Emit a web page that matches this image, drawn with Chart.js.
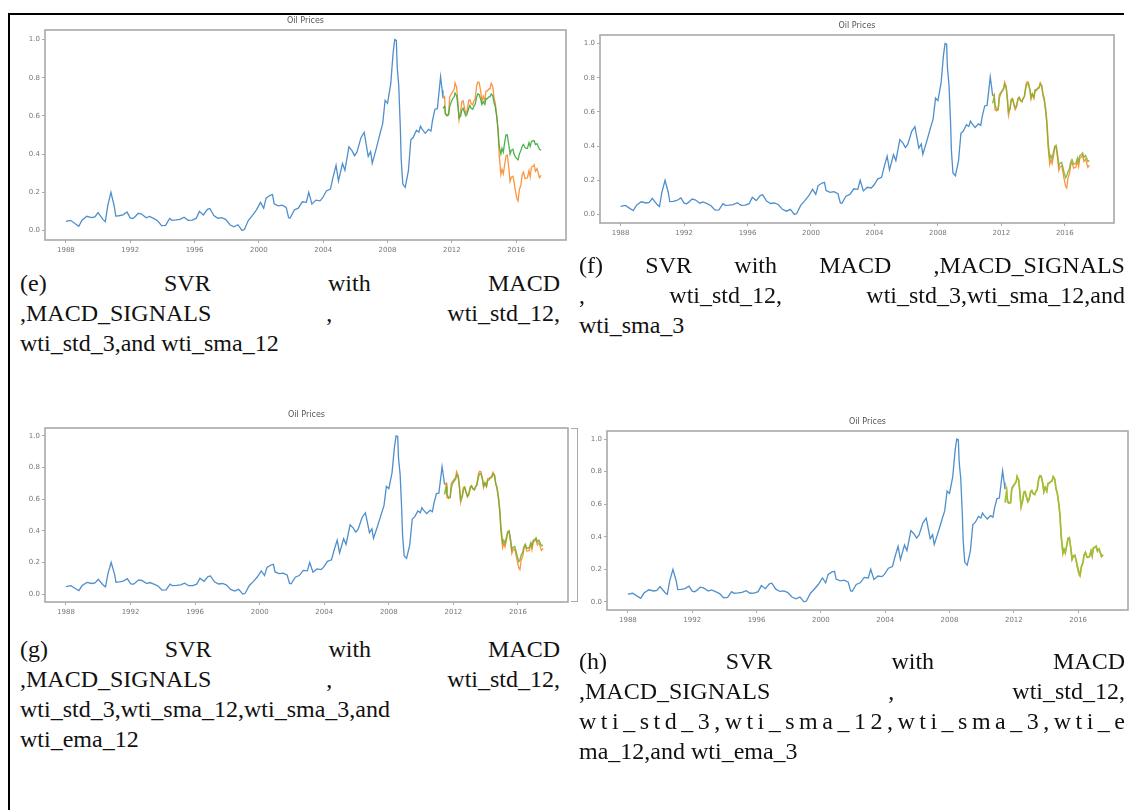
<!DOCTYPE html>
<html><head><meta charset="utf-8">
<script src="https://cdn.jsdelivr.net/npm/chart.js@4.4.1/dist/chart.umd.min.js"></script>
<style>
html,body{margin:0;padding:0;background:#fff;width:1132px;height:810px;overflow:hidden;position:relative;}
canvas{position:absolute;}
.cap{position:absolute;font-family:"Liberation Serif","Times New Roman",serif;font-size:24px;line-height:30px;color:#111;white-space:nowrap;}
.line{position:absolute;background:#000;}
</style></head><body>
<div class="line" style="left:8px;top:13px;width:1116px;height:2px"></div>
<div class="line" style="left:8px;top:13px;width:2px;height:797px"></div>
<div style="position:absolute;left:571px;top:428px;width:6px;height:172px;border:1.5px solid #aaa;border-left:none;"></div>
<script>
// ---- data ----
const xTickYears = [1988, 1992, 1996, 2000, 2004, 2008, 2012, 2016];
const yTickValues = [0.0, 0.2, 0.4, 0.6, 0.8, 1.0];
const chartTitle = "Oil Prices";

const trainYears = [1988.0,1988.3,1988.6,1988.8,1989.0,1989.3,1989.6,1989.8,1990.0,1990.3,1990.45,1990.6,1990.8,1991.0,1991.1,1991.3,1991.55,1991.8,1992.0,1992.15,1992.3,1992.5,1992.7,1993.0,1993.2,1993.45,1993.7,1993.95,1994.2,1994.45,1994.6,1994.85,1995.1,1995.35,1995.6,1995.85,1996.1,1996.3,1996.55,1996.8,1996.95,1997.2,1997.45,1997.7,1997.95,1998.2,1998.45,1998.7,1998.95,1999.1,1999.35,1999.6,1999.85,2000.1,2000.3,2000.45,2000.7,2000.85,2000.95,2001.2,2001.45,2001.7,2001.85,2001.95,2002.2,2002.45,2002.7,2002.95,2003.1,2003.3,2003.55,2003.8,2003.95,2004.2,2004.45,2004.6,2004.8,2004.95,2005.2,2005.35,2005.6,2005.8,2005.95,2006.1,2006.35,2006.55,2006.8,2006.95,2007.05,2007.3,2007.55,2007.7,2007.85,2008.0,2008.2,2008.35,2008.45,2008.55,2008.6,2008.7,2008.8,2008.85,2008.95,2009.1,2009.3,2009.45,2009.6,2009.8,2009.95,2010.05,2010.15,2010.35,2010.55,2010.7,2010.8,2010.95,2011.1,2011.3,2011.4,2011.45];
const trainValues = [0.047,0.053,0.034,0.022,0.054,0.074,0.067,0.071,0.094,0.058,0.046,0.129,0.200,0.130,0.075,0.077,0.082,0.097,0.066,0.062,0.072,0.090,0.086,0.066,0.073,0.063,0.051,0.025,0.027,0.063,0.053,0.055,0.058,0.069,0.053,0.054,0.063,0.100,0.081,0.111,0.115,0.078,0.064,0.067,0.057,0.030,0.019,0.030,0.000,0.005,0.053,0.079,0.108,0.147,0.117,0.169,0.184,0.188,0.140,0.129,0.133,0.121,0.067,0.065,0.107,0.117,0.150,0.147,0.200,0.138,0.159,0.155,0.169,0.207,0.217,0.274,0.341,0.260,0.350,0.315,0.438,0.417,0.392,0.410,0.486,0.514,0.388,0.413,0.352,0.429,0.512,0.559,0.681,0.666,0.768,0.931,1.000,0.996,0.860,0.757,0.532,0.375,0.243,0.226,0.313,0.475,0.488,0.525,0.515,0.546,0.531,0.509,0.530,0.521,0.576,0.635,0.638,0.805,0.734,0.693];

const testYears = [2011.45,2011.55,2011.6,2011.7,2011.8,2011.87,2011.95,2012.05,2012.15,2012.2,2012.3,2012.37,2012.45,2012.55,2012.62,2012.7,2012.8,2012.87,2012.95,2013.05,2013.12,2013.2,2013.3,2013.37,2013.45,2013.55,2013.62,2013.7,2013.8,2013.87,2013.95,2014.05,2014.12,2014.2,2014.3,2014.37,2014.45,2014.55,2014.62,2014.7,2014.8,2014.87,2014.95,2015.05,2015.12,2015.2,2015.3,2015.37,2015.45,2015.55,2015.62,2015.7,2015.8,2015.87,2015.95,2016.05,2016.12,2016.2,2016.3,2016.37,2016.45,2016.55,2016.62,2016.7,2016.8,2016.87,2016.95,2017.05,2017.12,2017.2,2017.3,2017.37,2017.45,2017.55];
const testActual = [0.693,0.701,0.612,0.605,0.612,0.701,0.712,0.726,0.741,0.774,0.750,0.680,0.579,0.625,0.675,0.679,0.638,0.613,0.627,0.681,0.685,0.665,0.658,0.679,0.689,0.761,0.777,0.775,0.727,0.674,0.704,0.679,0.730,0.730,0.741,0.741,0.771,0.753,0.695,0.668,0.596,0.526,0.391,0.293,0.320,0.297,0.352,0.391,0.395,0.323,0.257,0.279,0.284,0.253,0.211,0.166,0.155,0.213,0.240,0.289,0.306,0.272,0.273,0.276,0.314,0.280,0.332,0.336,0.344,0.310,0.324,0.303,0.276,0.288];

const predE = [0.640,0.650,0.610,0.600,0.605,0.650,0.670,0.690,0.700,0.720,0.705,0.660,0.590,0.600,0.630,0.640,0.615,0.600,0.610,0.640,0.655,0.640,0.635,0.650,0.660,0.700,0.715,0.712,0.685,0.660,0.675,0.660,0.690,0.690,0.700,0.700,0.715,0.705,0.670,0.650,0.590,0.530,0.440,0.400,0.430,0.410,0.470,0.500,0.500,0.445,0.400,0.420,0.425,0.400,0.385,0.375,0.370,0.400,0.420,0.440,0.450,0.435,0.430,0.430,0.460,0.440,0.465,0.470,0.470,0.450,0.455,0.440,0.425,0.420];
const predF = [0.650,0.690,0.640,0.615,0.615,0.680,0.705,0.720,0.735,0.760,0.745,0.690,0.600,0.620,0.665,0.675,0.645,0.625,0.635,0.675,0.685,0.670,0.662,0.678,0.690,0.745,0.765,0.765,0.730,0.685,0.705,0.685,0.722,0.725,0.738,0.740,0.762,0.750,0.705,0.680,0.610,0.540,0.420,0.330,0.345,0.325,0.370,0.400,0.405,0.345,0.285,0.300,0.305,0.280,0.245,0.215,0.225,0.250,0.270,0.305,0.320,0.295,0.295,0.300,0.330,0.310,0.345,0.350,0.360,0.335,0.345,0.330,0.310,0.315];
const predG = [0.630,0.680,0.630,0.610,0.612,0.670,0.700,0.715,0.730,0.755,0.742,0.685,0.595,0.615,0.660,0.672,0.640,0.620,0.632,0.672,0.683,0.668,0.660,0.676,0.688,0.740,0.760,0.762,0.728,0.682,0.702,0.682,0.718,0.722,0.735,0.738,0.758,0.748,0.702,0.676,0.605,0.535,0.415,0.325,0.340,0.320,0.365,0.395,0.400,0.340,0.280,0.295,0.300,0.275,0.240,0.205,0.215,0.245,0.265,0.300,0.315,0.290,0.290,0.295,0.325,0.305,0.340,0.345,0.355,0.330,0.340,0.325,0.305,0.310];
const predH = [0.610,0.680,0.625,0.608,0.610,0.690,0.708,0.722,0.738,0.768,0.748,0.683,0.588,0.622,0.670,0.677,0.641,0.617,0.630,0.678,0.684,0.667,0.660,0.678,0.689,0.755,0.772,0.771,0.729,0.678,0.703,0.681,0.727,0.729,0.740,0.741,0.768,0.752,0.698,0.670,0.602,0.533,0.402,0.305,0.325,0.303,0.352,0.388,0.393,0.328,0.265,0.282,0.287,0.259,0.220,0.180,0.168,0.218,0.243,0.288,0.304,0.275,0.276,0.279,0.312,0.284,0.330,0.335,0.342,0.313,0.325,0.306,0.281,0.288];

const captionE = [["(e) SVR with MACD","j"],[",MACD_SIGNALS , wti_std_12,","j"],["wti_std_3,and wti_sma_12","l"]];
const captionF = [["(f) SVR with MACD ,MACD_SIGNALS","j"],[", wti_std_12, wti_std_3,wti_sma_12,and","j"],["wti_sma_3","l"]];
const captionG = [["(g) SVR with MACD","j"],[",MACD_SIGNALS , wti_std_12,","j"],["wti_std_3,wti_sma_12,wti_sma_3,and","l"],["wti_ema_12","l"]];
const captionH = [["(h) SVR with MACD","j"],[",MACD_SIGNALS , wti_std_12,","j"],["wti_std_3,wti_sma_12,wti_sma_3,wti_e","s"],["ma_12,and wti_ema_3","l"]];

// ---- helpers ----
function pts(xs, ys){ return xs.map((x,i)=>({x:x, y:ys[i]})); }

const framePlugin = {
  id:'frame',
  beforeDatasetsDraw(chart){
    const a = chart.chartArea, ctx = chart.ctx;
    ctx.save(); ctx.strokeStyle = '#a8a8a8'; ctx.lineWidth = 1.6;
    ctx.strokeRect(a.left, a.top, a.right - a.left, a.bottom - a.top);
    ctx.restore();
  },
  afterDraw(chart){
    const a = chart.chartArea, ctx = chart.ctx, o = chart.options.plugins.frame;
    ctx.save(); ctx.fillStyle = '#555'; ctx.font = '8px "DejaVu Sans"';
    ctx.textAlign = 'center'; ctx.textBaseline = 'middle';
    ctx.fillText(chartTitle, (a.left + a.right)/2, a.top - o.titleGap);
    ctx.restore();
  }
};

function makeChart(f){
  const padL = 36, padT = 20, padR = 6, padB = 24;
  const W = f.r - f.l + padL + padR, H = f.b - f.t + padT + padB;
  const c = document.createElement('canvas');
  c.width = W; c.height = H;
  c.style.left = (f.l - padL) + 'px'; c.style.top = (f.t - padT) + 'px';
  c.style.width = W + 'px'; c.style.height = H + 'px';
  document.body.appendChild(c);
  const tickFont = {family:'"DejaVu Sans"', size:7};
  new Chart(c, {
    type:'line',
    data:{datasets:[
      {data:pts(trainYears, trainValues), borderColor:'#4f8fcb', borderWidth:1.3, pointRadius:0, tension:0, order:3},
      {data:pts(testYears, testActual), borderColor:'#fb9540', borderWidth:1.3, pointRadius:0, tension:0, order:2},
      {data:pts(testYears, f.pred), borderColor:f.predColor, borderWidth:f.predWidth, pointRadius:0, tension:0, order:1}
    ]},
    options:{
      responsive:false, animation:false, devicePixelRatio:1,
      layout:{padding:{top:padT, right:padR, left:0, bottom:0}},
      plugins:{legend:{display:false}, tooltip:{enabled:false}, title:{display:false}, frame:{titleGap:f.titleGap}},
      scales:{
        x:{type:'linear', min:1986.7, max:2019.1,
          afterBuildTicks:s=>{ s.ticks = xTickYears.map(v=>({value:v})); },
          afterFit:s=>{ s.height = padB; },
          ticks:{font:tickFont, color:'#777', padding:3, maxRotation:0, autoSkip:false, callback:v=>String(v)},
          grid:{drawOnChartArea:false, drawTicks:true, tickLength:3, color:'#aaa'},
          border:{display:false}},
        y:{type:'linear', min:-0.05, max:1.05,
          afterBuildTicks:s=>{ s.ticks = yTickValues.map(v=>({value:v})); },
          afterFit:s=>{ s.width = padL; },
          ticks:{font:tickFont, color:'#777', padding:2, callback:v=>Number(v).toFixed(1)},
          grid:{drawOnChartArea:false, drawTicks:true, tickLength:3, color:'#aaa'},
          border:{display:false}}
      }
    },
    plugins:[framePlugin]
  });
}

function caption(lines, left, top, width){
  lines.forEach((ln, i)=>{
    const [text, mode] = ln;
    const d = document.createElement('div');
    d.className = 'cap';
    d.style.left = left + 'px'; d.style.top = (top + i*30) + 'px';
    if (mode === 'j'){
      d.style.width = width + 'px'; d.style.display = 'flex'; d.style.justifyContent = 'space-between';
      text.split(' ').forEach(w=>{ const s = document.createElement('span'); s.textContent = w; d.appendChild(s); });
      document.body.appendChild(d);
    } else {
      d.textContent = text;
      document.body.appendChild(d);
      if (mode === 's'){
        const nat = d.getBoundingClientRect().width;
        d.style.letterSpacing = ((width - nat) / (text.length - 1)) + 'px';
      }
    }
  });
}

makeChart({l:45, t:30, r:566, b:240, pred:predE, predColor:'rgba(60,170,60,0.9)', predWidth:1.3, titleGap:9});
makeChart({l:600, t:35, r:1114, b:223, pred:predF, predColor:'rgba(135,175,45,0.85)', predWidth:1.5, titleGap:9});
makeChart({l:45, t:428, r:568, b:602, pred:predG, predColor:'rgba(120,170,45,0.85)', predWidth:1.5, titleGap:13});
makeChart({l:607, t:431, r:1128, b:610, pred:predH, predColor:'rgba(150,195,50,0.95)', predWidth:1.7, titleGap:9});

caption(captionE, 20, 268, 540);
caption(captionF, 579, 250, 546);
caption(captionG, 20, 634, 540);
caption(captionH, 579, 646, 546);
</script>
</body></html>
